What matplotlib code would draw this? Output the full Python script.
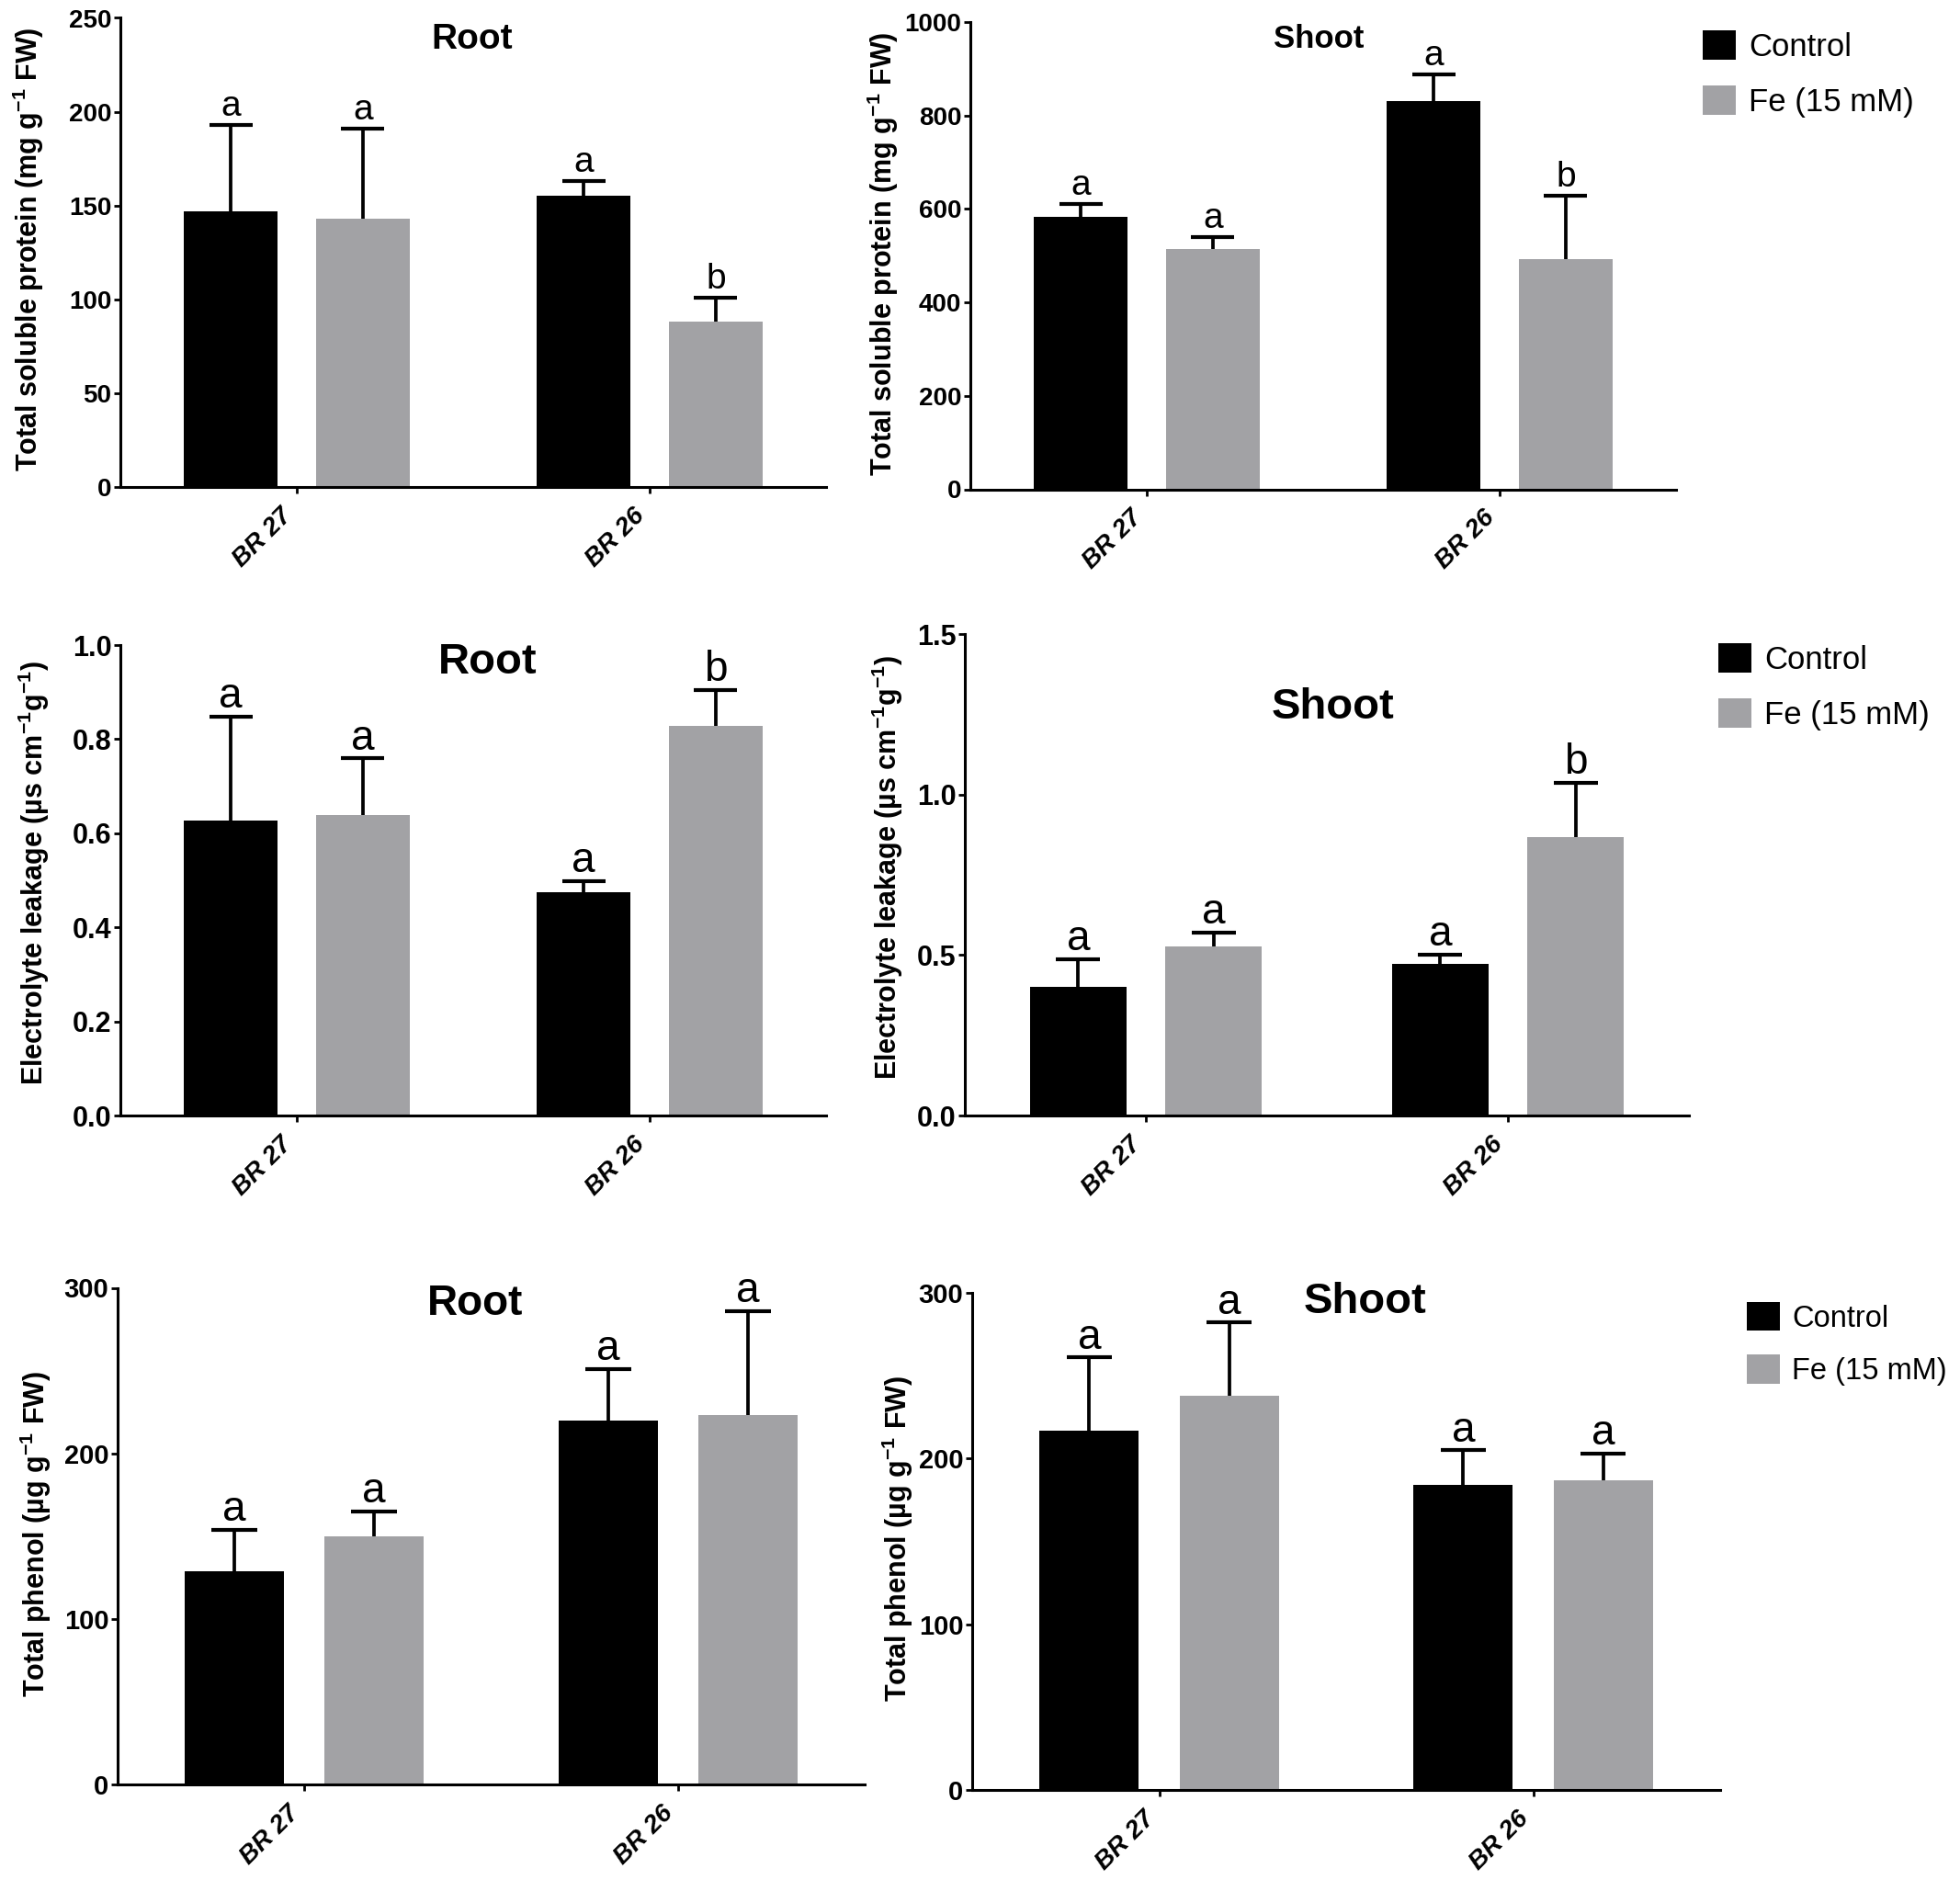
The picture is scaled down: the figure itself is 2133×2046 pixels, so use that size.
import matplotlib
matplotlib.use("Agg")
import matplotlib.pyplot as plt
from matplotlib.patches import Patch
import numpy as np

plt.rcParams['font.family'] = ['Liberation Sans', 'DejaVu Sans']
plt.rcParams['mathtext.fontset'] = 'custom'
plt.rcParams['mathtext.rm'] = 'Liberation Sans:bold'
plt.rcParams['mathtext.bf'] = 'Liberation Sans:bold'
plt.rcParams['mathtext.default'] = 'bf'

# ---- data ----
genotypes = ['BR 27', 'BR 26']
series = ['Control', 'Fe (15 mM)']

protein_root_ctrl = [147, 155]
protein_root_ctrl_err = [46, 8]
protein_root_fe = [143, 88]
protein_root_fe_err = [48, 13]
protein_root_letters = [['a', 'a'], ['a', 'b']]  # [ctrl, fe]
protein_root_ticks = [0, 50, 100, 150, 200, 250]

protein_shoot_ctrl = [584, 830]
protein_shoot_ctrl_err = [27, 58]
protein_shoot_fe = [514, 493]
protein_shoot_fe_err = [26, 135]
protein_shoot_letters = [['a', 'a'], ['a', 'b']]
protein_shoot_ticks = [0, 200, 400, 600, 800, 1000]

el_root_ctrl = [0.626, 0.474]
el_root_ctrl_err = [0.222, 0.025]
el_root_fe = [0.639, 0.828]
el_root_fe_err = [0.12, 0.076]
el_root_letters = [['a', 'a'], ['a', 'b']]
el_root_ticks = [0.0, 0.2, 0.4, 0.6, 0.8, 1.0]

el_shoot_ctrl = [0.40, 0.471]
el_shoot_ctrl_err = [0.087, 0.031]
el_shoot_fe = [0.527, 0.866]
el_shoot_fe_err = [0.044, 0.171]
el_shoot_letters = [['a', 'a'], ['a', 'b']]
el_shoot_ticks = [0.0, 0.5, 1.0, 1.5]

phenol_root_ctrl = [129, 220]
phenol_root_ctrl_err = [25, 31]
phenol_root_fe = [150, 223]
phenol_root_fe_err = [15, 63]
phenol_root_letters = [['a', 'a'], ['a', 'a']]
phenol_root_ticks = [0, 100, 200, 300]

phenol_shoot_ctrl = [217, 184]
phenol_shoot_ctrl_err = [44, 21]
phenol_shoot_fe = [238, 187]
phenol_shoot_fe_err = [44, 16]
phenol_shoot_letters = [['a', 'a'], ['a', 'a']]
phenol_shoot_ticks = [0, 100, 200, 300]

BLACK = '#000000'
GREY = '#a2a2a5'
W, H = 2133, 2046

fig = plt.figure(figsize=(W / 100, H / 100), dpi=100)


def px_axes(left, right, top, bottom):
    return fig.add_axes([left / W, 1 - bottom / H, (right - left) / W, (bottom - top) / H])


def panel(rect, ctrl, ctrl_err, fe, fe_err, letters, ticks, tick_fmt,
          tick_size, letter_size, letter_pad):
    ax = px_axes(*rect)
    x = np.arange(len(genotypes))
    width, off = 0.265, 0.187
    for vals, errs, col, sgn, let in [(ctrl, ctrl_err, BLACK, -1, letters[0]),
                                      (fe, fe_err, GREY, 1, letters[1])]:
        xs = x + sgn * off
        ax.bar(xs, vals, width=width, color=col, edgecolor='none', zorder=2)
        tops = np.array(vals) + np.array(errs)
        ax.vlines(xs, vals, tops, color='black', lw=2.7, zorder=3)
        ax.hlines(tops, xs - 0.061, xs + 0.061, color='black', lw=3, zorder=3)
        for xi, ti, li in zip(xs, tops, let):
            ax.annotate(li, (xi, ti), xytext=(0, letter_pad), textcoords='offset points',
                        ha='center', va='baseline', fontsize=letter_size)
    ax.set_xlim(-0.5, 1.5)
    ax.set_ylim(ticks[0], ticks[-1])
    ax.set_yticks(ticks, labels=[tick_fmt.format(t) for t in ticks],
                  fontsize=tick_size, fontweight='bold')
    ax.set_xticks(x, labels=genotypes, fontsize=20, fontweight='bold',
                  fontstyle='italic', rotation=45, ha='right')
    for s in ['top', 'right']:
        ax.spines[s].set_visible(False)
    for s in ['left', 'bottom']:
        ax.spines[s].set_linewidth(2.2)
    ax.tick_params(axis='y', width=2, length=5, pad=2)
    ax.tick_params(axis='x', width=2, length=5, pad=8)
    return ax


def ftext(x, y, s, **kw):
    fig.text(x / W, 1 - y / H, s, **kw)


def flegend(left, top, size=25):
    handles = [Patch(facecolor=BLACK, edgecolor='none'), Patch(facecolor=GREY, edgecolor='none')]
    fig.legend(handles, series, loc='upper left', bbox_to_anchor=(left / W, 1 - top / H),
               frameon=False, fontsize=size, handlelength=36 / (size * 1.389),
               handleheight=36 / (size * 1.389), handletextpad=0.4,
               labelspacing=0.72, borderpad=0, borderaxespad=0)


# row 1 : total soluble protein
panel((131, 899, 19.5, 530), protein_root_ctrl, protein_root_ctrl_err, protein_root_fe,
      protein_root_fe_err, protein_root_letters, protein_root_ticks, '{:d}', 20, 28, 7)
ftext(514, 43, 'Root', fontsize=28, fontweight='bold', ha='center', va='center')
ftext(31, 271, r'Total soluble protein (mg g$^{-1}$ FW)', fontsize=22, fontweight='bold',
      rotation=90, ha='center', va='center')

panel((1056, 1824, 24, 532.5), protein_shoot_ctrl, protein_shoot_ctrl_err, protein_shoot_fe,
      protein_shoot_fe_err, protein_shoot_letters, protein_shoot_ticks, '{:d}', 20, 28, 7)
ftext(1435, 43, 'Shoot', fontsize=25, fontweight='bold', ha='center', va='center')
ftext(961, 276, r'Total soluble protein (mg g$^{-1}$ FW)', fontsize=22, fontweight='bold',
      rotation=90, ha='center', va='center')
flegend(1853, 33, 25)

# row 2 : electrolyte leakage
panel((131, 899, 702, 1214), el_root_ctrl, el_root_ctrl_err, el_root_fe,
      el_root_fe_err, el_root_letters, el_root_ticks, '{:.1f}', 22, 33, 7)
ftext(531, 721, 'Root', fontsize=34, fontweight='bold', ha='center', va='center')
ftext(37, 950, r'Electrolyte leakage (µs cm$^{-1}$g$^{-1}$)', fontsize=22, fontweight='bold',
      rotation=90, ha='center', va='center')

panel((1050, 1838, 690, 1214), el_shoot_ctrl, el_shoot_ctrl_err, el_shoot_fe,
      el_shoot_fe_err, el_shoot_letters, el_shoot_ticks, '{:.1f}', 22, 33, 7)
ftext(1451, 770, 'Shoot', fontsize=34, fontweight='bold', ha='center', va='center')
ftext(966, 944, r'Electrolyte leakage (µs cm$^{-1}$g$^{-1}$)', fontsize=22, fontweight='bold',
      rotation=90, ha='center', va='center')
flegend(1870, 700, 25)

# row 3 : total phenol
panel((128, 941, 1401.5, 1942), phenol_root_ctrl, phenol_root_ctrl_err, phenol_root_fe,
      phenol_root_fe_err, phenol_root_letters, phenol_root_ticks, '{:d}', 21, 33, 7)
ftext(517, 1419, 'Root', fontsize=33, fontweight='bold', ha='center', va='center')
ftext(39, 1669, r'Total phenol (µg g$^{-1}$ FW)', fontsize=22, fontweight='bold',
      rotation=90, ha='center', va='center')

panel((1058, 1872, 1407, 1948), phenol_shoot_ctrl, phenol_shoot_ctrl_err, phenol_shoot_fe,
      phenol_shoot_fe_err, phenol_shoot_letters, phenol_shoot_ticks, '{:d}', 21, 33, 7)
ftext(1486, 1417, 'Shoot', fontsize=34, fontweight='bold', ha='center', va='center')
ftext(977, 1674, r'Total phenol (µg g$^{-1}$ FW)', fontsize=22, fontweight='bold',
      rotation=90, ha='center', va='center')
flegend(1901, 1417, 23.5)

fig.savefig('out.png', dpi=100)
